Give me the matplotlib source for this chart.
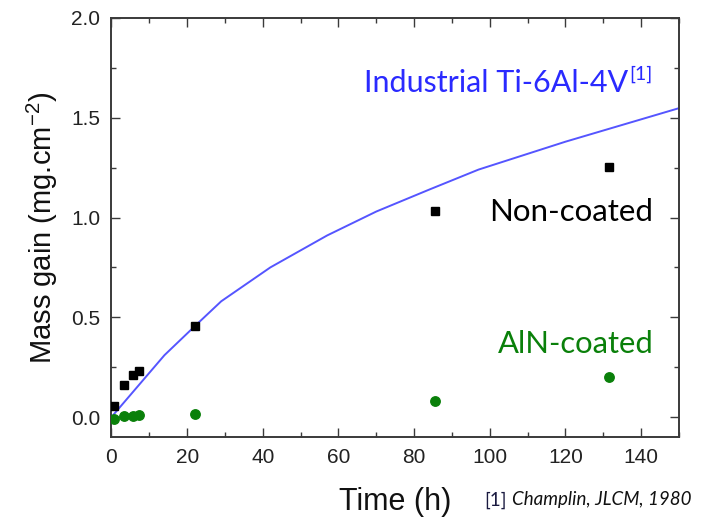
import matplotlib
matplotlib.use("Agg")
import matplotlib.pyplot as plt
from matplotlib.ticker import MultipleLocator

# Oxidation data
time_h = [0.75, 3.2, 5.7, 7.3, 22, 85.5, 131.5]
gain_uncoated = [0.055, 0.16, 0.21, 0.23, 0.455, 1.035, 1.255]
gain_aln = [-0.01, 0.005, 0.005, 0.01, 0.015, 0.08, 0.2]

# Literature curve (Champlin, 1980) for industrial Ti-6Al-4V
ref_time = [0, 14, 22, 29, 42, 57, 70, 84, 97, 120, 150]
ref_gain = [0, 0.31, 0.455, 0.58, 0.75, 0.91, 1.03, 1.14, 1.24, 1.38, 1.548]

plt.rcParams["mathtext.fontset"] = "custom"
plt.rcParams["mathtext.rm"] = "Liberation Sans"
plt.rcParams["mathtext.it"] = "Liberation Sans"

axis_font = "Liberation Sans"
note_font = "Lato"
spine_col = "#3a3a3a"

fig = plt.figure(figsize=(7.16, 5.18), dpi=100)
ax = fig.add_axes([0.1557, 0.1564, 0.7926, 0.8089])

ax.plot(ref_time, ref_gain, color="#5555ff", linewidth=1.4, zorder=2)
ax.plot(time_h, gain_uncoated, linestyle="none", marker="s", markersize=5.2,
        color="black", zorder=3)
ax.plot(time_h, gain_aln, linestyle="none", marker="o", markersize=6.8,
        color="#0a800a", zorder=3)

ax.set_xlim(0, 150)
ax.set_ylim(-0.1, 2.0)

ax.xaxis.set_major_locator(MultipleLocator(20))
ax.xaxis.set_minor_locator(MultipleLocator(10))
ax.yaxis.set_major_locator(MultipleLocator(0.5))
ax.yaxis.set_minor_locator(MultipleLocator(0.25))
ax.tick_params(which="both", direction="in", top=True, right=True,
               color=spine_col, width=1.0)
ax.tick_params(which="major", length=6.5, labelsize=15, pad=8)
ax.tick_params(which="minor", length=3.5)
for lab in ax.get_xticklabels() + ax.get_yticklabels():
    lab.set_family(axis_font)
    lab.set_color("#222222")
for sp in ax.spines.values():
    sp.set_color(spine_col)
    sp.set_linewidth(1.4)

ax.set_xlabel("Time (h)", fontsize=22, family=axis_font, color="#111111",
              labelpad=14)
ax.set_ylabel("Mass gain (mg.cm$^{-2}$)", fontsize=21, family=axis_font,
              color="#111111", labelpad=8)

# Annotations
ax.text(143.2, 1.03, "Non-coated", fontsize=22.5, family=note_font,
        color="black", ha="right", va="center")
ax.text(143.2, 0.365, "AlN-coated", fontsize=22.3, family=note_font,
        color="#0a800a", ha="right", va="center")
ind = ax.text(136.5, 1.675, "Industrial Ti-6Al-4V", fontsize=22,
              family=note_font, color="#2a2aff", ha="right", va="center")
ax.annotate("[1]", xy=(1, 0.5), xycoords=ind, xytext=(1, 0),
            textcoords="offset points", fontsize=14, family=note_font,
            color="#2a2aff", ha="left", va="bottom")

# Reference footnote below the axes
ref = fig.text(0.677, 0.035, "[1]", fontsize=13.5, family=note_font,
               color="#1a1a40", ha="left", va="center")
ax.annotate("Champlin, JLCM, 1980", xy=(1, 0.5), xycoords=ref,
            xytext=(3.5, 0), textcoords="offset points", fontsize=13.5,
            family=note_font, style="italic", color="#111111",
            ha="left", va="center")

fig.savefig("out.png", dpi=100)
